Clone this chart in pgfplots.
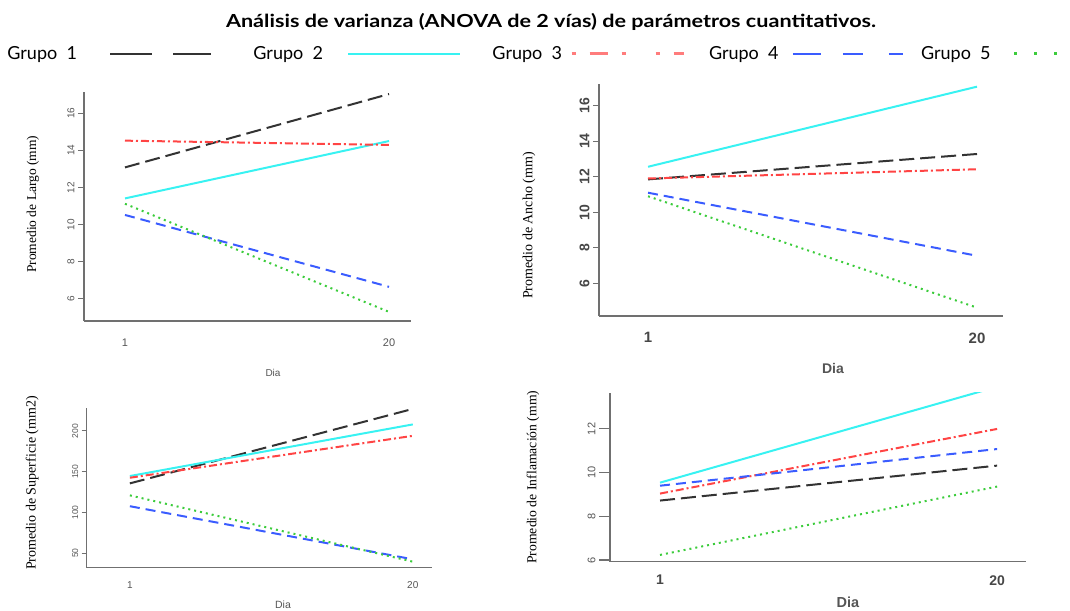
\documentclass[border=0pt]{standalone}
\usepackage{fontspec}
\setmainfont{Liberation Serif}
\newfontfamily\lsans{Liberation Sans}
\newfontfamily\lato{Lato}
\usepackage{pgfplots}
\pgfplotsset{compat=1.18}
\definecolor{g1}{HTML}{333333}
\definecolor{g2}{HTML}{38F2F2}
\definecolor{g3}{HTML}{FF4444}
\definecolor{g4}{HTML}{3A5CFF}
\definecolor{g5}{HTML}{3CCC3C}
\definecolor{axgray}{HTML}{707070}
\definecolor{tkgray}{HTML}{555555}

\pgfplotsset{
  panel/.style={
    scale only axis,
    anchor=south west,
    axis x line*=bottom, axis y line*=left,
    axis line style={axgray, line width=1.3pt, -},
    xtick={1,20},
    major x tick style={draw=none},
    major y tick style={axgray, line width=1.1pt},
    tick align=outside,
    /pgf/number format/assume math mode=true,
    yticklabel style={rotate=90, anchor=south},
    ylabel style={anchor=center},
    xlabel style={anchor=center},
    every axis plot/.append style={line width=2pt},
  },
  s1/.style={g1, dash pattern=on 15pt off 6pt},
  s2/.style={g2, solid},
  s3/.style={g3, dash pattern=on 8pt off 3pt on 2pt off 3pt},
  s4/.style={g4, dash pattern=on 10pt off 6pt},
  s5/.style={g5, dash pattern=on 2pt off 4pt},
}

\begin{document}
\begin{tikzpicture}

% ---------- Panel 1: Largo ----------
\begin{axis}[panel, at={(84pt,289pt)}, width=327pt, height=229pt,
  xmin=-1.95, xmax=21.58, ymin=4.81, ymax=17.14, ytick={6,8,...,16},
  major tick length=6pt,
  yticklabel style={font=\lsans\fontsize{10}{10}\selectfont, text=tkgray},
  xticklabel style={font=\lsans\fontsize{11}{11}\selectfont, text=tkgray, yshift=-8pt},
  ylabel={Promedio de Largo (mm)},
  ylabel style={at={(axis description cs:-0.156,0.51)}, font=\fontsize{13.5}{13.5}\selectfont},
  xlabel={Dia},
  xlabel style={at={(axis description cs:0.578,-0.227)}, font=\lsans\fontsize{10}{10}\selectfont, text=tkgray},
  legend plot pos=right,
  legend columns=5,
  legend image code/.code={\draw[#1] (0pt,0pt) -- (112pt,0pt);},
  legend style={draw=none, fill=none, at={(axis description cs:-0.244,1.166)}, anchor=west,
    font=\lato\fontsize{18}{18}\selectfont, nodes={inner sep=0pt},
    /tikz/column 1/.style={column sep=32pt},
    /tikz/column 2/.style={column sep=30pt},
    /tikz/column 3/.style={column sep=24pt},
    /tikz/column 4/.style={column sep=31pt},
    /tikz/column 5/.style={column sep=8pt},
    /tikz/column 6/.style={column sep=24pt},
    /tikz/column 7/.style={column sep=13pt},
    /tikz/column 8/.style={column sep=15pt},
    /tikz/column 9/.style={column sep=22pt}},
]
\addlegendimage{g1, line width=2.5pt, dash pattern=on 42pt off 21pt on 38pt off 20pt}
\addlegendentry{Grupo\ \ 1}
\addlegendimage{g2, line width=2.5pt}
\addlegendentry{Grupo\ \ 2}
\addlegendimage{g3!70, line width=3pt, dash pattern=on 4pt off 14pt on 18pt off 14pt on 4pt off 30pt}
\addlegendentry{Grupo\ \ 3}
\addlegendimage{g4, line width=2.5pt, dash pattern=on 28pt off 22pt on 20pt off 26pt on 14pt off 10pt}
\addlegendentry{Grupo\ \ 4}
\addlegendimage{g5, line width=3pt, dash pattern=on 3pt off 17pt}
\addlegendentry{Grupo\ \ 5}
\addplot[s1, forget plot] coordinates {(1,13.08) (20,17.03)};
\addplot[s2, forget plot] coordinates {(1,11.41) (20,14.50)};
\addplot[s3, forget plot] coordinates {(1,14.52) (20,14.29)};
\addplot[s4, forget plot] coordinates {(1,10.52) (20,6.65)};
\addplot[s5, forget plot] coordinates {(1,11.12) (20,5.30)};
\end{axis}

% ---------- Panel 2: Ancho ----------
\begin{axis}[panel, at={(599pt,294pt)}, width=404pt, height=232pt,
  xmin=-1.83, xmax=21.5, ymin=4.16, ymax=17.22, ytick={6,8,...,16},
  major tick length=6pt,
  yticklabel style={font=\lsans\bfseries\fontsize{14}{14}\selectfont, text=g1!90},
  xticklabel style={font=\lsans\bfseries\fontsize{15}{15}\selectfont, text=g1!90, yshift=-7pt},
  ylabel={Promedio de Ancho (mm)},
  ylabel style={at={(axis description cs:-0.173,0.39)}, font=\fontsize{14}{14}\selectfont},
  xlabel={Dia},
  xlabel style={at={(axis description cs:0.579,-0.228)}, font=\lsans\bfseries\fontsize{14}{14}\selectfont, text=tkgray},
]
\addplot[s1] coordinates {(1,11.85) (20,13.28)};
\addplot[s2] coordinates {(1,12.56) (20,17.07)};
\addplot[s3] coordinates {(1,11.90) (20,12.42)};
\addplot[s4] coordinates {(1,11.10) (20,7.55)};
\addplot[s5] coordinates {(1,10.90) (20,4.63)};
\end{axis}

% ---------- Panel 3: Superficie ----------
\begin{axis}[panel, at={(86.7pt,42.3pt)}, width=345pt, height=160pt,
  xmin=-1.9, xmax=21.27, ymin=32.3, ymax=228.5, ytick={50,100,150,200},
  major tick length=5pt,
  yticklabel style={font=\lsans\fontsize{8.5}{8.5}\selectfont, text=tkgray},
  xticklabel style={font=\lsans\fontsize{10}{10}\selectfont, text=tkgray, yshift=-5pt},
  ylabel={Promedio de Superficie (mm2)},
  ylabel style={at={(axis description cs:-0.158,0.53)}, font=\fontsize{14}{14}\selectfont},
  xlabel={Dia},
  xlabel style={at={(axis description cs:0.569,-0.233)}, font=\lsans\fontsize{10.5}{10.5}\selectfont, text=tkgray},
]
\addplot[s1] coordinates {(1,135.7) (20,227)};
\addplot[s2] coordinates {(1,144.7) (20,208)};
\addplot[s3] coordinates {(1,142.6) (20,194)};
\addplot[s4] coordinates {(1,107.7) (20,42.6)};
\addplot[s5] coordinates {(1,121.0) (20,39.7)};
\end{axis}

% ---------- Panel 4: Inflamacion ----------
\begin{axis}[panel, at={(610pt,48.3pt)}, width=416pt, height=169pt,
  xmin=-1.82, xmax=21.63, ymin=5.92, ymax=13.66, ytick={6,8,10,12},
  major tick length=11pt,
  yticklabel style={font=\lsans\fontsize{11}{11}\selectfont, text=tkgray},
  xticklabel style={font=\lsans\bfseries\fontsize{14}{14}\selectfont, text=g1!90, yshift=1pt},
  ylabel={Promedio de Inflamación (mm)},
  ylabel style={at={(axis description cs:-0.185,0.50)}, font=\fontsize{13.7}{13.7}\selectfont},
  xlabel={Dia},
  xlabel style={at={(axis description cs:0.572,-0.238)}, font=\lsans\bfseries\fontsize{14.5}{14.5}\selectfont, text=tkgray},
]
\addplot[s1] coordinates {(1,8.72) (20,10.32)};
\addplot[s2] coordinates {(1,9.54) (20,13.93)};
\addplot[s3] coordinates {(1,9.04) (20,12.00)};
\addplot[s4] coordinates {(1,9.40) (20,11.08)};
\addplot[s5] coordinates {(1,6.23) (20,9.36)};
\end{axis}

\node[font=\lato\bfseries\fontsize{18}{18}\selectfont, anchor=center] at (551pt,588pt)
  {\scalebox{1.2}[1]{Análisis de varianza (ANOVA de 2 vías) de parámetros cuantitativos.}};

\pgfresetboundingbox
\path[use as bounding box] (0pt,0pt) rectangle (1070pt,610pt);
\end{tikzpicture}
\end{document}
